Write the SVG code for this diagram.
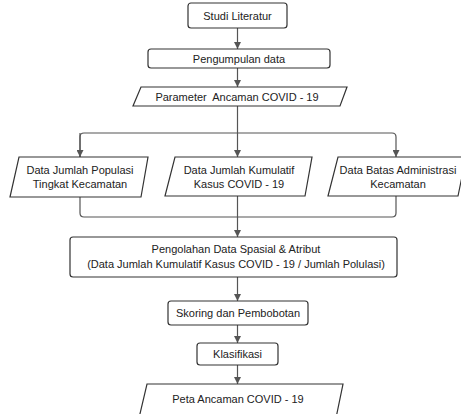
<svg xmlns="http://www.w3.org/2000/svg" width="461" height="414" viewBox="0 0 461 414">
<style>
.box{fill:#fff;stroke:#333;stroke-width:1.2}
.ln{fill:none;stroke:#555;stroke-width:1.2}
text{font-family:"Liberation Sans",Arial,sans-serif;font-size:11px;fill:#222;text-anchor:middle}
</style>
<defs>
<marker id="ah" viewBox="0 0 8 8" refX="8" refY="4" markerWidth="7" markerHeight="7" markerUnits="userSpaceOnUse" orient="auto">
<path d="M0,0 L8,4 L0,8 z" fill="#555"/>
</marker>
</defs>
<rect width="461" height="414" fill="#fff"/>
<g id="connectors">
<path class="ln" d="M237.5,28 V49" marker-end="url(#ah)"/>
<path class="ln" d="M237.5,68 V87" marker-end="url(#ah)"/>
<path class="ln" d="M237.5,106 V157" marker-end="url(#ah)"/>
<path class="ln" d="M80,157 V137 Q80,133 84,133 H392 Q396,133 396,137 V157" marker-end="url(#ah)"/>
<path class="ln" d="M80,133 V157" marker-end="url(#ah)"/>
<path class="ln" d="M80,197 V213 Q80,217 84,217 H392 Q396,217 396,213 V196"/>
<path class="ln" d="M237.5,196 V237" marker-end="url(#ah)"/>
<path class="ln" d="M237.5,277 V301" marker-end="url(#ah)"/>
<path class="ln" d="M237.5,325 V343" marker-end="url(#ah)"/>
<path class="ln" d="M237.5,365 V384" marker-end="url(#ah)"/>
</g>
<g id="studi">
<rect class="box" x="188" y="3" width="99" height="25" rx="3"/>
<text x="237.5" y="19.5">Studi Literatur</text>
</g>
<g id="pengumpulan">
<rect class="box" x="148" y="49" width="182" height="19" rx="3"/>
<text x="239" y="62.5">Pengumpulan data</text>
</g>
<g id="parameter">
<path class="box" d="M141,87 H347 L340,106 H133 Z"/>
<text x="237" y="100.5" xml:space="preserve">Parameter  Ancaman COVID - 19</text>
</g>
<g id="populasi">
<path class="box" d="M19,157 H148 L141,197 H10 Z"/>
<text x="80" y="174">Data Jumlah Populasi</text>
<text x="80" y="188">Tingkat Kecamatan</text>
</g>
<g id="kumulatif">
<path class="box" d="M175,157 H312 L305,196 H165 Z"/>
<text x="239" y="174">Data Jumlah Kumulatif</text>
<text x="239" y="188">Kasus COVID - 19</text>
</g>
<g id="batas">
<path class="box" d="M338,157 H466 L458,196 H328 Z"/>
<text x="398" y="174">Data Batas Administrasi</text>
<text x="398" y="188">Kecamatan</text>
</g>
<g id="pengolahan">
<rect class="box" x="70" y="237" width="327" height="40" rx="3"/>
<text x="236" y="253">Pengolahan Data Spasial &amp; Atribut</text>
<text x="236" y="268">(Data Jumlah Kumulatif Kasus COVID - 19 / Jumlah Polulasi)</text>
</g>
<g id="skoring">
<rect class="box" x="168" y="301" width="140" height="24" rx="3"/>
<text x="238" y="317">Skoring dan Pembobotan</text>
</g>
<g id="klasifikasi">
<rect class="box" x="197" y="343" width="81" height="22" rx="3"/>
<text x="237.5" y="358">Klasifikasi</text>
</g>
<g id="peta">
<path class="box" d="M147,384 H343 L336,418 H139 Z"/>
<text x="238" y="403">Peta Ancaman COVID - 19</text>
</g>
</svg>
